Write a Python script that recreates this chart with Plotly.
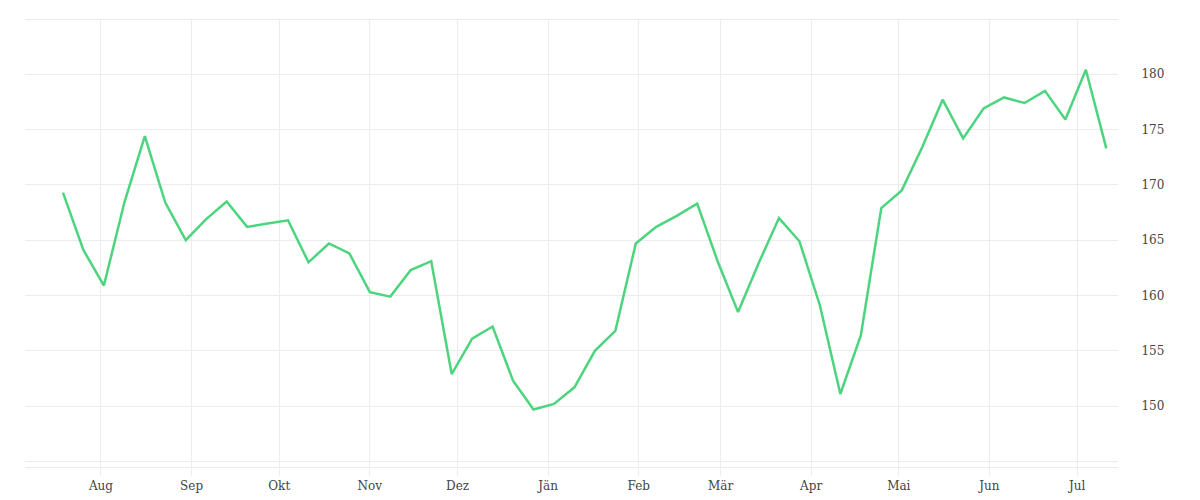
import pandas as pd
import plotly.graph_objects as go

dates = pd.date_range("2022-07-19", periods=52, freq="7D")
values = [169.3, 164.1, 160.9, 168.4, 174.4, 168.4, 165.0, 166.9, 168.5, 166.2,
          166.5, 166.8, 163.0, 164.7, 163.8, 160.3, 159.9, 162.3, 163.1, 152.9,
          156.1, 157.2, 152.3, 149.7, 150.2, 151.7, 155.0, 156.8, 164.7, 166.2,
          167.2, 168.3, 163.1, 158.5, 162.9, 167.0, 164.9, 159.1, 151.1, 156.4,
          167.9, 169.5, 173.4, 177.7, 174.2, 176.9, 177.9, 177.4, 178.5, 175.9,
          180.4, 173.3]
tick_dates = pd.date_range("2022-08-01", periods=12, freq="MS")
tick_labels = ["Aug", "Sep", "Okt", "Nov", "Dez", "Jän", "Feb", "Mär", "Apr", "Mai", "Jun", "Jul"]

fig = go.Figure()
fig.add_trace(go.Scatter(x=dates, y=values, mode="lines",
                         line=dict(color="#4cd47e", width=2.5)))

grid = "#ececec"
fig.update_layout(
    width=1200, height=500,
    margin=dict(l=17, r=90, t=12, b=41),
    paper_bgcolor="white", plot_bgcolor="white",
    showlegend=False,
    font=dict(family="DejaVu Serif", size=12, color="#444"),
    xaxis=dict(tickvals=tick_dates, ticktext=tick_labels, showgrid=True,
               gridcolor=grid, ticks="outside", ticklen=8, tickcolor=grid,
               range=["2022-07-06", "2023-07-15"], zeroline=False,
               showline=True, linecolor=grid, mirror=True),
    yaxis=dict(side="right", range=[144.5, 184.9], dtick=5, tick0=150,
               showgrid=True, gridcolor=grid, zeroline=False,
               tickvals=[150, 155, 160, 165, 170, 175, 180],
               ticks="outside", ticklen=20, tickcolor="white"),
)
fig.add_hline(y=145, line=dict(color=grid, width=1))
fig.write_html("out.html")
